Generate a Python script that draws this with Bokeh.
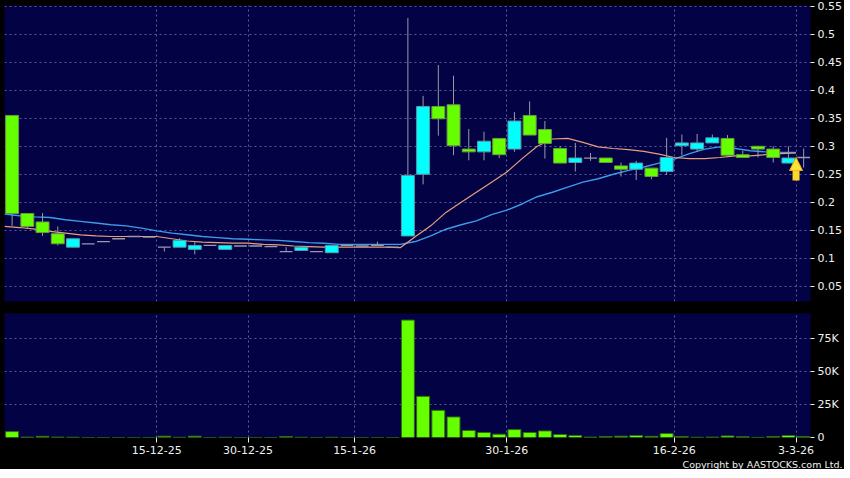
from bokeh.plotting import figure
from bokeh.layouts import column
from bokeh.models import (Range1d, FixedTicker, CustomJSTickFormatter, Grid, Title,
                          Arrow, NormalHead, ColumnDataSource)
from bokeh.embed import file_html
from bokeh.resources import INLINE

# ---- data ----
opens  = [0.355, 0.180, 0.165, 0.144, 0.120, 0.126, 0.130, 0.135, 0.139, 0.138,
          0.120, 0.120, 0.116, 0.123, 0.116, 0.122, 0.122, 0.121, 0.112, 0.114,
          0.112, 0.110, 0.123, 0.122, 0.123, 0.120, 0.140, 0.250, 0.371, 0.374,
          0.295, 0.290, 0.314, 0.295, 0.355, 0.330, 0.296, 0.271, 0.279, 0.279,
          0.265, 0.259, 0.261, 0.255, 0.301, 0.295, 0.306, 0.314, 0.285, 0.300,
          0.295, 0.270, 0.280]
highs  = [0.355, 0.180, 0.181, 0.157, 0.135, 0.126, 0.130, 0.135, 0.139, 0.138,
          0.120, 0.136, 0.130, 0.123, 0.123, 0.122, 0.122, 0.121, 0.120, 0.120,
          0.112, 0.123, 0.123, 0.122, 0.130, 0.120, 0.529, 0.390, 0.445, 0.426,
          0.331, 0.326, 0.314, 0.361, 0.380, 0.345, 0.300, 0.306, 0.288, 0.279,
          0.271, 0.274, 0.261, 0.315, 0.321, 0.322, 0.321, 0.320, 0.292, 0.300,
          0.300, 0.300, 0.296]
lows   = [0.158, 0.153, 0.140, 0.123, 0.120, 0.126, 0.130, 0.135, 0.139, 0.138,
          0.112, 0.120, 0.107, 0.123, 0.116, 0.122, 0.122, 0.121, 0.112, 0.114,
          0.112, 0.110, 0.123, 0.122, 0.123, 0.120, 0.140, 0.232, 0.319, 0.284,
          0.275, 0.275, 0.279, 0.290, 0.320, 0.278, 0.270, 0.255, 0.274, 0.271,
          0.246, 0.240, 0.241, 0.249, 0.284, 0.290, 0.306, 0.284, 0.280, 0.280,
          0.271, 0.270, 0.262]
closes = [0.180, 0.157, 0.146, 0.126, 0.135, 0.126, 0.130, 0.135, 0.139, 0.138,
          0.120, 0.132, 0.123, 0.123, 0.123, 0.122, 0.122, 0.121, 0.112, 0.120,
          0.112, 0.123, 0.123, 0.122, 0.123, 0.120, 0.248, 0.371, 0.349, 0.301,
          0.290, 0.309, 0.285, 0.345, 0.320, 0.305, 0.270, 0.279, 0.279, 0.271,
          0.259, 0.270, 0.246, 0.280, 0.306, 0.306, 0.315, 0.284, 0.280, 0.295,
          0.280, 0.279, 0.280]
volumes = [4500, 300, 900, 300, 200, 0, 0, 0, 0, 0,
           1000, 150, 1000, 0, 150, 0, 0, 0, 700, 150,
           0, 150, 0, 0, 0, 0, 89000, 31200, 20600, 15600,
           5300, 3800, 2500, 6000, 3800, 5000, 2300, 1500, 300, 800,
           1000, 1500, 900, 3000, 700, 200, 300, 1200, 600, 100,
           800, 1500, 800]
ma_short = [0.157, 0.155, 0.152, 0.148, 0.145, 0.142, 0.140, 0.139, 0.139, 0.139,
            0.139, 0.135, 0.131, 0.129, 0.128, 0.127, 0.127, 0.125, 0.124, 0.122,
            0.121, 0.120, 0.120, 0.120, 0.120, 0.120, 0.119, 0.139, 0.158, 0.182,
            0.200, 0.218, 0.236, 0.254, 0.278, 0.300, 0.313, 0.314, 0.307, 0.299,
            0.296, 0.294, 0.291, 0.286, 0.280, 0.278, 0.278, 0.280, 0.283, 0.283,
            0.285, 0.287, 0.288]
ma_long = [0.179, 0.176, 0.174, 0.173, 0.169, 0.166, 0.163, 0.160, 0.158, 0.154,
           0.149, 0.145, 0.142, 0.139, 0.137, 0.135, 0.134, 0.133, 0.132, 0.130,
           0.128, 0.127, 0.125, 0.125, 0.125, 0.125, 0.125, 0.130, 0.140, 0.152,
           0.160, 0.167, 0.178, 0.186, 0.197, 0.210, 0.218, 0.227, 0.236, 0.242,
           0.250, 0.257, 0.263, 0.270, 0.277, 0.287, 0.295, 0.299, 0.296, 0.292,
           0.290, 0.289, 0.289]
tick_idx = [10, 16, 23, 33, 44, 52]
tick_labels = ["15-12-25", "30-12-25", "15-1-26", "30-1-26", "16-2-26", "3-3-26"]
price_ticks = [0.05, 0.1, 0.15, 0.2, 0.25, 0.3, 0.35, 0.4, 0.45, 0.5, 0.55]
vol_ticks = [0, 25000, 50000, 75000]

# ---- styles ----
BG = "#020244"
GRID = "#5a5aa2"
TXT = "#f0f0f0"
FONT = "DejaVu Sans"
GREEN = "#66ff00"
CYAN = "#00ffff"
WICK = "#9a9aaa"
FRAME_W = 806

n = len(closes)
idx = list(range(n))
tick_pos = [t - 0.5 for t in tick_idx]
x_range = Range1d(-0.5, n - 0.55)

up = [i for i in idx if closes[i] > opens[i]]
down = [i for i in idx if closes[i] < opens[i]]
flat = [i for i in idx if closes[i] == opens[i]]
wick_i = [i for i in idx if highs[i] > lows[i]]


def style(p):
    p.background_fill_color = BG
    p.border_fill_color = "black"
    p.outline_line_color = None
    p.xgrid.visible = False
    p.ygrid.visible = False
    p.add_layout(Grid(dimension=0, ticker=FixedTicker(ticks=tick_pos),
                      grid_line_color=GRID, grid_line_dash="2 3", grid_line_width=1))


def style_yaxis(ax):
    ax.axis_line_color = None
    ax.major_tick_line_color = TXT
    ax.major_tick_out = 4
    ax.major_tick_in = 0
    ax.minor_tick_line_color = None
    ax.major_label_standoff = 3
    ax.major_label_text_color = TXT
    ax.major_label_text_font = FONT
    ax.major_label_text_font_size = "11px"


# ---- price figure ----
p = figure(frame_width=FRAME_W, frame_height=296, x_range=x_range,
           y_range=Range1d(0.023, 0.5512), output_backend="svg",
           toolbar_location=None, x_axis_location=None, y_axis_location="right",
           min_border_left=4, min_border_top=5, min_border_bottom=12, min_border_right=32)
style(p)
p.add_layout(Grid(dimension=1, ticker=FixedTicker(ticks=price_ticks),
                  grid_line_color=GRID, grid_line_dash="2 3", grid_line_width=1))

ma_x = [i - 0.5 for i in idx]
p.line(ma_x, ma_long, line_color="#3d9be9", line_width=1.4)
p.line(ma_x, ma_short, line_color="#e8a07c", line_width=1.2)

p.segment(x0=wick_i, x1=wick_i, y0=[lows[i] for i in wick_i], y1=[highs[i] for i in wick_i],
          line_color=WICK, line_width=1)
p.vbar(x=up, width=0.85, bottom=[opens[i] for i in up], top=[closes[i] for i in up],
       fill_color=CYAN, line_color="#5a9aa8", line_width=1)
p.vbar(x=down, width=0.85, bottom=[closes[i] for i in down], top=[opens[i] for i in down],
       fill_color=GREEN, line_color="#6a9a40", line_width=1)
p.segment(x0=[i - 0.42 for i in flat], x1=[i + 0.42 for i in flat],
          y0=[closes[i] for i in flat], y1=[closes[i] for i in flat],
          line_color=WICK, line_width=1.3)

# last-price arrow marker
last = closes[-1]
p.add_layout(Arrow(end=NormalHead(size=13, fill_color="#ffe23a", line_color="#e0b400"),
                   x_start=n - 1.5, y_start=last - 0.041, x_end=n - 1.5, y_end=last,
                   line_color="#ffd62e", line_width=7))

ya = p.yaxis[0]
ya.ticker = FixedTicker(ticks=price_ticks)
ya.formatter = CustomJSTickFormatter(code="return String(Math.round(tick*100)/100);")
style_yaxis(ya)

# ---- volume figure ----
v = figure(frame_width=FRAME_W, frame_height=124, x_range=x_range,
           y_range=Range1d(0, 94000), output_backend="svg",
           toolbar_location=None, y_axis_location="right",
           min_border_left=4, min_border_top=0, min_border_bottom=0, min_border_right=32)
style(v)
v.add_layout(Grid(dimension=1, ticker=FixedTicker(ticks=vol_ticks),
                  grid_line_color=GRID, grid_line_dash="2 3", grid_line_width=1))
src = ColumnDataSource(dict(x=idx, vol=volumes))
v.vbar(x="x", top="vol", bottom=0, width=0.85, source=src,
       fill_color=GREEN, line_color="#2f6a10", line_width=1)

va = v.yaxis[0]
va.ticker = FixedTicker(ticks=vol_ticks)
va.formatter = CustomJSTickFormatter(code="return tick == 0 ? '0' : (tick/1000) + 'K';")
style_yaxis(va)

xa = v.xaxis[0]
xa.ticker = FixedTicker(ticks=tick_pos)
xa.major_label_overrides = {t: lab for t, lab in zip(tick_pos, tick_labels)}
xa.axis_line_color = None
xa.major_tick_line_color = TXT
xa.major_tick_out = 5
xa.major_tick_in = 0
xa.minor_tick_line_color = None
xa.major_label_standoff = 3
xa.major_label_text_color = TXT
xa.major_label_text_font = FONT
xa.major_label_text_font_size = "11px"

v.add_layout(Title(text="Copyright by AASTOCKS.com Ltd.", align="right", offset=-32,
                   standoff=0, text_color=TXT, text_font=FONT, text_font_size="9.5px",
                   text_font_style="normal"), "below")

layout = column(p, v, spacing=0, background="black")
open("out.html", "w").write(file_html(layout, INLINE))
